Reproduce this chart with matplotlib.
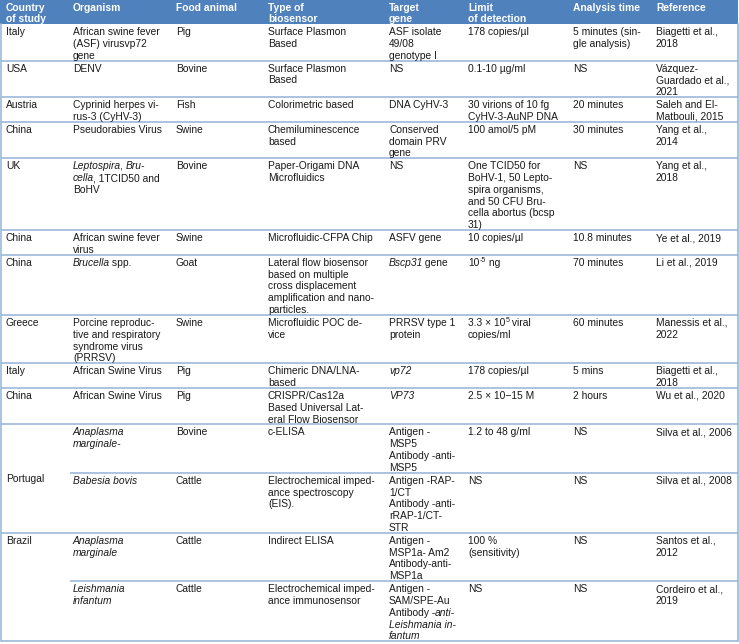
import re

import matplotlib.pyplot as plt
from matplotlib.font_manager import FontProperties


# table content; "*...*" = italic, "^...^" = superscript
headers = ["Country\nof study", "Organism", "Food animal", "Type of\nbiosensor",
           "Target\ngene", "Limit\nof detection", "Analysis time", "Reference"]

countries = ["Italy", "USA", "Austria", "China", "UK", "China", "China", "Greece",
             "Italy", "China", "Portugal", None, "Brazil", None]

organisms = [
    "African swine fever\n(ASF) virusvp72\ngene",
    "DENV",
    "Cyprinid herpes vi-\nrus-3 (CyHV-3)",
    "Pseudorabies Virus",
    "*Leptospira*, *Bru-*\n*cella*, 1TCID50 and\nBoHV",
    "African swine fever\nvirus",
    "*Brucella* spp.",
    "Porcine reproduc-\ntive and respiratory\nsyndrome virus\n(PRRSV)",
    "African Swine Virus",
    "African Swine Virus",
    "*Anaplasma*\n*marginale-*",
    "*Babesia bovis*",
    "*Anaplasma*\n*marginale*",
    "*Leishmania*\n*infantum*",
]

animals = ["Pig", "Bovine", "Fish", "Swine", "Bovine", "Swine", "Goat", "Swine",
           "Pig", "Pig", "Bovine", "Cattle", "Cattle", "Cattle"]

biosensors = [
    "Surface Plasmon\nBased",
    "Surface Plasmon\nBased",
    "Colorimetric based",
    "Chemiluminescence\nbased",
    "Paper-Origami DNA\nMicrofluidics",
    "Microfluidic-CFPA Chip",
    "Lateral flow biosensor\nbased on multiple\ncross displacement\namplification and nano-\nparticles.",
    "Microfluidic POC de-\nvice",
    "Chimeric DNA/LNA-\nbased",
    "CRISPR/Cas12a\nBased Universal Lat-\neral Flow Biosensor",
    "c-ELISA",
    "Electrochemical imped-\nance spectroscopy\n(EIS).",
    "Indirect ELISA",
    "Electrochemical imped-\nance immunosensor",
]

targets = [
    "ASF isolate\n49/08\ngenotype I",
    "NS",
    "DNA CyHV-3",
    "Conserved\ndomain PRV\ngene",
    "NS",
    "ASFV gene",
    "*Bscp31* gene",
    "PRRSV type 1\nprotein",
    "*vp72*",
    "*VP73*",
    "Antigen -\nMSP5\nAntibody -anti-\nMSP5",
    "Antigen -RAP-\n1/CT\nAntibody -anti-\nrRAP-1/CT-\nSTR",
    "Antigen -\nMSP1a- Am2\nAntibody-anti-\nMSP1a",
    "Antigen -\nSAM/SPE-Au\nAntibody -*anti-*\n*Leishmania in-*\n*fantum*",
]

limits = [
    "178 copies/µl",
    "0.1-10 µg/ml",
    "30 virions of 10 fg\nCyHV-3-AuNP DNA",
    "100 amol/5 pM",
    "One TCID50 for\nBoHV-1, 50 Lepto-\nspira organisms,\nand 50 CFU Bru-\ncella abortus (bcsp\n31)",
    "10 copies/µl",
    "10^-5^ ng",
    "3.3 × 10^5^ viral\ncopies/ml",
    "178 copies/µl",
    "2.5 × 10−15 M",
    "1.2 to 48 g/ml",
    "NS",
    "100 %\n(sensitivity)",
    "NS",
]

times = ["5 minutes (sin-\ngle analysis)", "NS", "20 minutes", "30 minutes", "NS",
         "10.8 minutes", "70 minutes", "60 minutes", "5 mins", "2 hours",
         "NS", "NS", "NS", "NS"]

references = [
    "Biagetti et al.,\n2018",
    "Vázquez-\nGuardado et al.,\n2021",
    "Saleh and El-\nMatbouli, 2015",
    "Yang et al.,\n2014",
    "Yang et al.,\n2018",
    "Ye et al., 2019",
    "Li et al., 2019",
    "Manessis et al.,\n2022",
    "Biagetti et al.,\n2018",
    "Wu et al., 2020",
    "Silva et al., 2006",
    "Silva et al., 2008",
    "Santos et al.,\n2012",
    "Cordeiro et al.,\n2019",
]

# layout / style
W, H = 739, 644
COL_X = [6, 73, 176, 268, 389, 468, 573, 656]
FAMILY = ["Liberation Sans", "DejaVu Sans"]
FS = 7.4
LINE = 11.8
PAD = 1.1
HEADER_H = 24
HEAD_BG = "#4F81BD"
RULE = "#95B3D7"
INK = "#1a1a1a"

fig = plt.figure(figsize=(W / 100, H / 100), dpi=100)
ax = fig.add_axes([0, 0, 1, 1])
ax.set_xlim(0, W)
ax.set_ylim(H, 0)
ax.axis("off")
renderer = fig.canvas.get_renderer()


def text_width(s, prop):
    # bars on both sides so that spaces at the ends are counted
    w1 = renderer.get_text_width_height_descent("|" + s + "|", prop, ismath=False)[0]
    w0 = renderer.get_text_width_height_descent("||", prop, ismath=False)[0]
    return w1 - w0


def draw_cell(x, y_base, text, color=INK, weight="normal"):
    for i, line in enumerate(text.split("\n")):
        cx = x
        y = y_base + i * LINE
        for part in re.split(r"(\*[^*]+\*|\^[^^]+\^)", line):
            if not part:
                continue
            size, style, dy = FS, "normal", 0
            if part.startswith("*"):
                part, style = part[1:-1], "italic"
            elif part.startswith("^"):
                part, size, dy = part[1:-1], FS * 0.68, -3.5
            prop = FontProperties(family=FAMILY, size=size, style=style, weight=weight)
            ax.text(cx, y + dy, part, fontproperties=prop, color=color,
                    ha="left", va="baseline")
            cx += text_width(part, prop)
            if style == "italic":
                cx -= 1.2


def n_lines(s):
    return s.count("\n") + 1


# header
ax.add_patch(plt.Rectangle((0, 0), W - 1, HEADER_H, color=HEAD_BG, lw=0))
for x, h in zip(COL_X, headers):
    draw_cell(x, 10.5, h, color="white", weight="bold")

columns = [organisms, animals, biosensors, targets, limits, times, references]
n_rows = len(organisms)
heights = [max(n_lines(col[r]) for col in columns) * LINE + PAD for r in range(n_rows)]

tops = [HEADER_H]
for h in heights:
    tops.append(tops[-1] + h)

# row rules: full width where a new country starts, partial inside merged cells
for r in range(1, n_rows + 1):
    x0 = 1 if (r == n_rows or countries[r] is not None) else COL_X[1] - 3
    ax.plot([x0, W - 1.5], [tops[r], tops[r]], color=RULE, lw=1.1,
            solid_capstyle="butt")
ax.plot([1, 1], [HEADER_H, tops[-1]], color=RULE, lw=1.1)
ax.plot([W - 1.5, W - 1.5], [HEADER_H, tops[-1]], color=RULE, lw=1.1)

for r in range(n_rows):
    for x, col in zip(COL_X[1:], columns):
        draw_cell(x, tops[r] + 11, col[r])
    c = countries[r]
    if c is None:
        continue
    span = 1
    while r + span < n_rows and countries[r + span] is None:
        span += 1
    if c == "Portugal":
        mid = (tops[r] + tops[r + span]) / 2
        draw_cell(COL_X[0], mid + 3.5, c)
    else:
        draw_cell(COL_X[0], tops[r] + 11, c)

fig.savefig("out.png", dpi=100)
